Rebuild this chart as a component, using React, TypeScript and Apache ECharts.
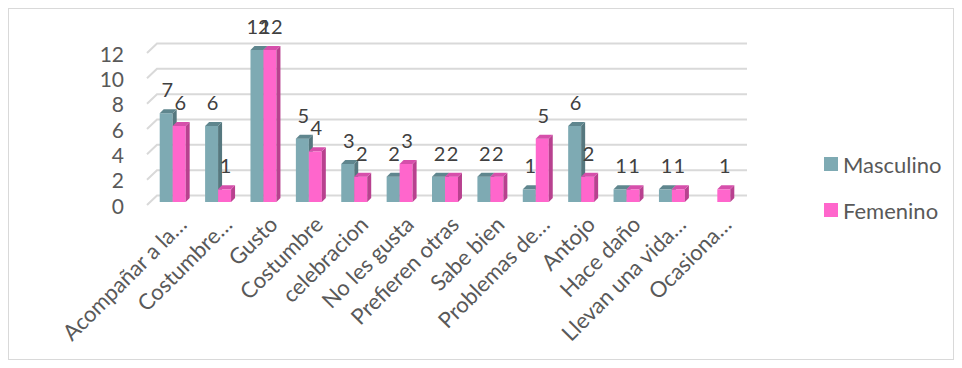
import React, { useEffect, useRef } from "react";
import * as echarts from "echarts";

const categories = [
  "Acompañar a la…",
  "Costumbre…",
  "Gusto",
  "Costumbre",
  "celebracion",
  "No les gusta",
  "Prefieren otras",
  "Sabe bien",
  "Problemas de…",
  "Antojo",
  "Hace daño",
  "Llevan una vida…",
  "Ocasiona…",
];
const masculino: (number | null)[] = [7, 6, 12, 5, 3, 2, 2, 2, 1, 6, 1, 1, null];
const femenino: (number | null)[] = [6, 1, 12, 4, 2, 3, 2, 2, 5, 2, 1, 1, 1];
const yTicks = [0, 2, 4, 6, 8, 10, 12];

const FONT = "Lato, 'Open Sans', sans-serif";
const TEAL = { front: "#7eaab3", side: "#56787f", top: "#5f868e" };
const PINK = { front: "#ff66cc", side: "#b8418f", top: "#d64fab" };

function makeBarRender(which: number, col: { front: string; side: string; top: string }) {
  return (params: any, api: any) => {
    const idx = api.value(0);
    const v = api.value(1);
    const base = api.coord([idx, 0]);
    const topP = api.coord([idx, v]);
    const bandW = api.size([1, 0])[0];
    const w = bandW * 0.286;
    const off = 3;
    const d = 4;
    const left = base[0] + (which === 0 ? -w : 0) + off;
    const yb = base[1] - off;
    const yt = topP[1] - off;
    const right = left + w;
    return {
      type: "group",
      children: [
        {
          type: "rect",
          shape: { x: left, y: yt, width: w, height: Math.max(yb - yt, 0) },
          style: { fill: col.front },
        },
        {
          type: "polygon",
          shape: {
            points: [
              [right, yb],
              [right + d, yb - d],
              [right + d, yt - d],
              [right, yt],
            ],
          },
          style: { fill: col.side },
        },
        {
          type: "polygon",
          shape: {
            points: [
              [left, yt],
              [left + d, yt - d],
              [right + d, yt - d],
              [right, yt],
            ],
          },
          style: { fill: col.top },
        },
        {
          type: "text",
          x: left + w / 2 + 1,
          y: yt - 24,
          style: {
            text: String(v),
            fill: "#404040",
            font: `20px ${FONT}`,
            align: "center",
            verticalAlign: "middle",
          },
        },
      ],
    };
  };
}

export default function App() {
  const ref = useRef<HTMLDivElement>(null);
  useEffect(() => {
    if (!ref.current) return;
    const chart = echarts.init(ref.current, undefined, { renderer: "svg" });
    const gridData = yTicks.map((t) => [0, t]);
    const mData = masculino
      .map((v, i) => (v == null ? null : [i, v]))
      .filter((x) => x !== null);
    const fData = femenino
      .map((v, i) => (v == null ? null : [i, v]))
      .filter((x) => x !== null);
    chart.setOption({
      animation: false,
      textStyle: { fontFamily: FONT },
      grid: [
        { left: 138, right: 216, top: 44, bottom: 154 },
        { left: 150.5, right: 203.5, top: 44, bottom: 154 },
      ],
      legend: {
        data: ["Masculino", "Femenino"],
        orient: "vertical",
        left: 815,
        top: 144,
        padding: 0,
        icon: "rect",
        itemWidth: 14,
        itemHeight: 14,
        itemGap: 24,
        textStyle: { fontSize: 22, color: "#595959", fontFamily: FONT },
      },
      xAxis: [
        {
          type: "category",
          gridIndex: 0,
          data: categories,
          axisLine: { show: false },
          axisTick: { show: false },
          axisLabel: { show: false },
        },
        {
          type: "category",
          gridIndex: 1,
          data: categories,
          axisLine: { show: false },
          axisTick: { show: false },
          axisLabel: {
            interval: 0,
            rotate: 45,
            fontSize: 22,
            color: "#595959",
            margin: 15,
            fontFamily: FONT,
          },
        },
      ],
      yAxis: [
        {
          type: "value",
          gridIndex: 0,
          min: 0,
          max: 12,
          interval: 2,
          axisLine: { show: false },
          axisTick: { show: false },
          splitLine: { show: false },
          axisLabel: { fontSize: 21, color: "#595959", margin: 23, fontFamily: FONT },
        },
        {
          type: "value",
          gridIndex: 1,
          min: 0,
          max: 12,
          interval: 2,
          show: false,
        },
      ],
      series: [
        {
          type: "custom",
          name: "grid",
          data: gridData,
          encode: { x: 0, y: 1 },
          silent: true,
          z: 1,
          renderItem: (params: any, api: any) => {
            const p = api.coord([0, api.value(1)]);
            const cs = params.coordSys;
            const yf = p[1];
            return {
              type: "polyline",
              shape: {
                points: [
                  [cs.x, yf],
                  [cs.x + 10, yf - 9.5],
                  [cs.x + cs.width + 10, yf - 9.5],
                ],
              },
              style: { stroke: "#d9d9d9", lineWidth: 2, fill: "none" },
            };
          },
        },
        {
          type: "custom",
          name: "Masculino",
          data: mData,
          encode: { x: 0, y: 1 },
          z: 2,
          itemStyle: { color: TEAL.front },
          renderItem: makeBarRender(0, TEAL),
        },
        {
          type: "custom",
          name: "Femenino",
          data: fData,
          encode: { x: 0, y: 1 },
          z: 3,
          itemStyle: { color: PINK.front },
          renderItem: makeBarRender(1, PINK),
        },
      ],
    });
    return () => chart.dispose();
  }, []);
  return (
    <div
      style={{
        width: 946,
        height: 352,
        border: "1px solid #d9d9d9",
        boxSizing: "border-box",
        background: "#fff",
      }}
    >
      <div ref={ref} style={{ width: 944, height: 350 }} />
    </div>
  );
}
